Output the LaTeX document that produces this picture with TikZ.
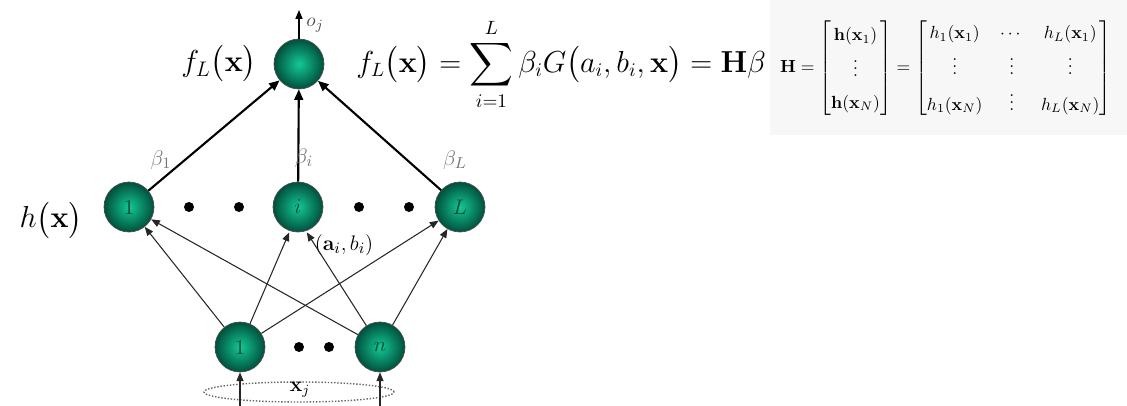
\documentclass[tikz,border=0pt]{standalone}
\usepackage{amsmath}
\usetikzlibrary{arrows.meta,shapes.geometric}
\definecolor{ballin}{RGB}{20,200,150}
\definecolor{ballout}{RGB}{0,80,60}
\definecolor{numgreen}{RGB}{10,70,50}
\begin{document}
\begin{tikzpicture}[x=0.02cm,y=-0.02cm,
  neuron/.style={circle,minimum size=1cm,inner sep=0pt,shading=radial,inner color=ballin,outer color=ballout,draw=black!70,line width=0.4pt,text=numgreen,font=\fontsize{12}{12}\selectfont},
  bigdot/.style={circle,fill=black,inner sep=0pt,minimum size=0.2cm},
  outedge/.style={line width=1.2pt,-{Triangle[length=6pt,width=5pt]}},
  inedge/.style={line width=0.6pt,black!85,-{Triangle[length=5pt,width=4pt]}},
  wlabel/.style={text=black!55,font=\fontsize{13}{13}\selectfont},
  biglabel/.style={font=\fontsize{17}{20}\selectfont,inner sep=0pt}]
\useasboundingbox (0,0) rectangle (1127,406);
\fill[black!3] (770,0) rectangle (1127,135);
% output
\node[neuron] (out) at (299,64) {};
\coordinate (oj) at (299,10);
\draw[line width=0.6pt,-{Triangle[length=5pt,width=4pt]}] (out) -- (oj);
\node[wlabel,text=black!70,font=\fontsize{11}{11}\selectfont] (ojl) at (315,25) {$o_j$};
\node[biglabel] (fl) at (219,64) {$f_L\bigl(\mathbf{x}\bigr)$};
\node[biglabel,anchor=west,font=\fontsize{16}{19}\selectfont] (eq) at (356,64) {$f_L\bigl(\mathbf{x}\bigr)=\displaystyle\sum_{i=1}^{L}\beta_i G\bigl(a_i,b_i,\mathbf{x}\bigr)=\mathbf{H}\beta$};
% matrix
\node[anchor=west,font=\fontsize{10}{12}\selectfont] (mat) at (774,68) {\renewcommand{\arraystretch}{1.5}$\mathbf{H}=\begin{bmatrix}\mathbf{h}(\mathbf{x}_1)\\ \vdots\\ \mathbf{h}(\mathbf{x}_N)\end{bmatrix}=\begin{bmatrix}h_1(\mathbf{x}_1) & \cdots & h_L(\mathbf{x}_1)\\ \vdots & \vdots & \vdots\\ h_1(\mathbf{x}_N) & \vdots & h_L(\mathbf{x}_N)\end{bmatrix}$};
% hidden layer
\node[neuron] (h1) at (129,207) {1};
\node[neuron] (hi) at (298,207) {$i$};
\node[neuron] (hL) at (460,207) {$L$};
\node[bigdot] (d1) at (189,207) {};
\node[bigdot] (d2) at (239,207) {};
\node[bigdot] (d3) at (359,207) {};
\node[bigdot] (d4) at (409,207) {};
\node[biglabel] (hx) at (51,220) {$h\bigl(\mathbf{x}\bigr)$};
\draw[outedge] (h1) -- (out);
\draw[outedge] (hi) -- (out);
\draw[outedge] (hL) -- (out);
\node[wlabel] (b1) at (161,160) {$\beta_1$};
\node[wlabel] (bi) at (304,158) {$\beta_i$};
\node[wlabel] (bL) at (455,160) {$\beta_L$};
\node[font=\fontsize{13}{13}\selectfont] (ab) at (344,245) {$(\mathbf{a}_i,b_i)$};
% input layer
\node[neuron] (in1) at (240,347) {1};
\node[neuron] (inn) at (380,347) {$n$};
\node[bigdot] (d5) at (299,347) {};
\node[bigdot] (d6) at (329,347) {};
\draw[inedge] (in1) -- (h1);
\draw[inedge] (in1) -- ([xshift=-5pt]hi.south);
\draw[inedge] (in1) -- (hL);
\draw[inedge] (inn) -- (h1);
\draw[inedge] (inn) -- ([xshift=5pt]hi.south);
\draw[inedge] (inn) -- (hL);
% input ellipse
\node[ellipse,draw=black!60,densely dotted,line width=0.8pt,minimum width=3.8cm,minimum height=0.4cm,inner sep=0pt] (xj) at (299,392) {};
\node[font=\fontsize{12}{12}\selectfont] (xjl) at (300,390) {$\mathbf{x}_j$};
\coordinate (s1) at (240,406);
\coordinate (sn) at (380,406);
\draw[inedge] (s1) -- (in1);
\draw[inedge] (sn) -- (inn);
\end{tikzpicture}
\end{document}
